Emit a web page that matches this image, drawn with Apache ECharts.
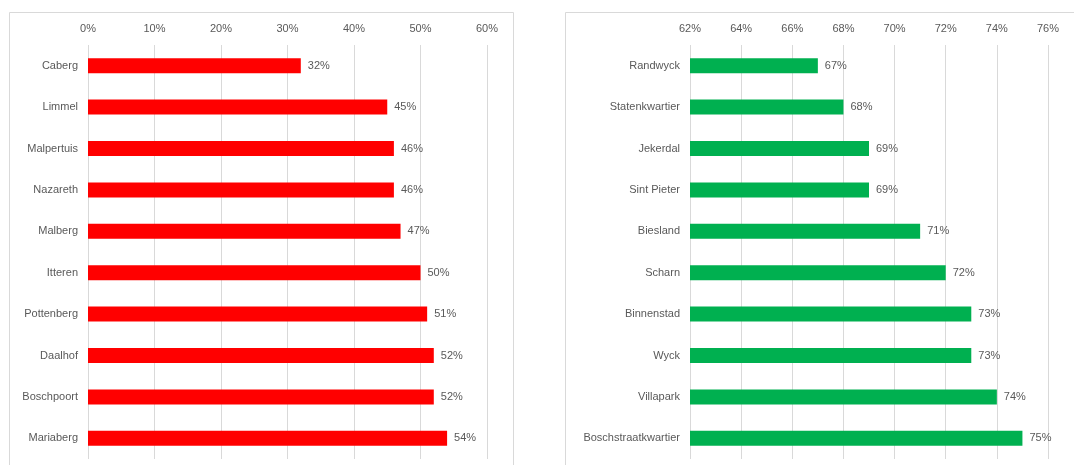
<!DOCTYPE html>
<html>
<head>
<meta charset="utf-8">
<script src="https://cdn.jsdelivr.net/npm/echarts@6/dist/echarts.min.js"></script>
<style>
  html, body { margin: 0; padding: 0; background: #fff; }
  #chart { width: 1074px; height: 465px; }
</style>
</head>
<body>
<div id="chart"></div>
<script>
// left panel: lowest shares
var leftCategories = ['Caberg', 'Limmel', 'Malpertuis', 'Nazareth', 'Malberg', 'Itteren', 'Pottenberg', 'Daalhof', 'Boschpoort', 'Mariaberg']
var leftValues = [32, 45, 46, 46, 47, 50, 51, 52, 52, 54]
var leftTicks = { min: 0, max: 60, interval: 10 }

// right panel: highest shares
var rightCategories = ['Randwyck', 'Statenkwartier', 'Jekerdal', 'Sint Pieter', 'Biesland', 'Scharn', 'Binnenstad', 'Wyck', 'Villapark', 'Boschstraatkwartier']
var rightValues = [67, 68, 69, 69, 71, 72, 73, 73, 74, 75]
var rightTicks = { min: 62, max: 76, interval: 2 }

var textColor = '#595959'
var lineColor = '#d9d9d9'
var font = 'Liberation Sans, Arial, sans-serif'

function valueAxis (gridIndex, ticks) {
  return {
    type: 'value',
    gridIndex: gridIndex,
    position: 'top',
    min: ticks.min,
    max: ticks.max,
    interval: ticks.interval,
    axisLine: { show: false },
    axisTick: { show: false },
    axisLabel: {
      color: textColor,
      fontSize: 11,
      fontFamily: font,
      margin: 11,
      formatter: '{value}%'
    },
    splitLine: { lineStyle: { color: lineColor, width: 1 } }
  }
}

function categoryAxis (gridIndex, cats) {
  return {
    type: 'category',
    gridIndex: gridIndex,
    inverse: true,
    data: cats,
    axisLine: { show: false },
    axisTick: { show: false },
    axisLabel: {
      color: textColor,
      fontSize: 11,
      fontFamily: font,
      margin: 10
    }
  }
}

function barSeries (index, values, color) {
  return {
    type: 'bar',
    xAxisIndex: index,
    yAxisIndex: index,
    data: values,
    barWidth: 15,
    itemStyle: { color: color },
    label: {
      show: true,
      position: 'right',
      distance: 7,
      color: textColor,
      fontSize: 11,
      fontFamily: font,
      formatter: '{c}%'
    },
    silent: true
  }
}

var option = {
  animation: false,
  backgroundColor: '#fff',
  graphic: [
    { type: 'rect', shape: { x: 9.5, y: 12.5, width: 504, height: 470 }, style: { fill: 'none', stroke: lineColor, lineWidth: 1 } },
    { type: 'rect', shape: { x: 565.5, y: 12.5, width: 520, height: 470 }, style: { fill: 'none', stroke: lineColor, lineWidth: 1 } }
  ],
  grid: [
    { left: 88, top: 45, width: 399, height: 414 },
    { left: 690, top: 45, width: 358, height: 414 }
  ],
  xAxis: [valueAxis(0, leftTicks), valueAxis(1, rightTicks)],
  yAxis: [categoryAxis(0, leftCategories), categoryAxis(1, rightCategories)],
  series: [
    barSeries(0, leftValues, '#ff0000'),
    barSeries(1, rightValues, '#00b050')
  ]
}

var chart = echarts.init(document.getElementById('chart'))
chart.setOption(option)
</script>
</body>
</html>
